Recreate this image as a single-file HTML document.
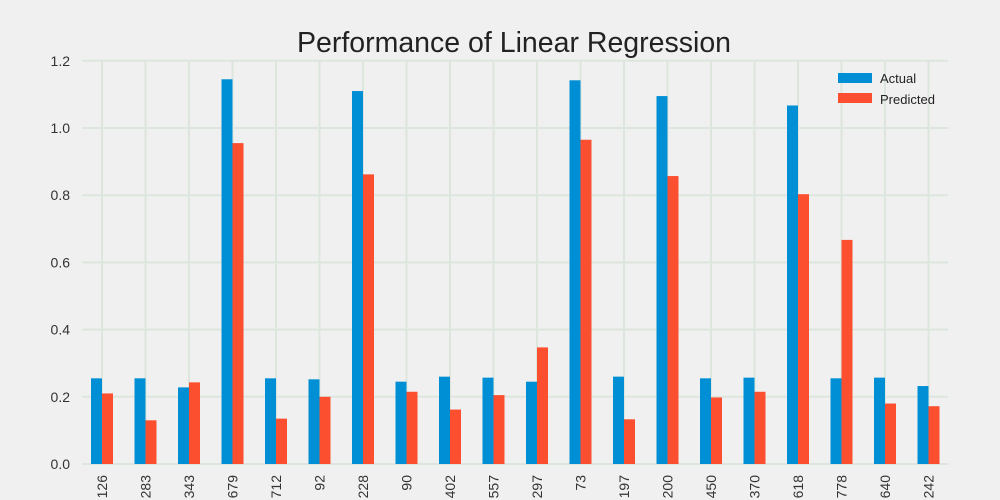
<!DOCTYPE html>
<html><head><meta charset="utf-8"><style>
body{margin:0;background:#f0f0f0;}
svg{display:block;font-family:"Liberation Sans",sans-serif;}
</style></head><body>
<svg id="c" width="1000" height="500">
<rect width="1000" height="500" fill="#f0f0f0"/>
<text x="514" y="52" text-anchor="middle" font-size="28.5" fill="#222">Performance of Linear Regression</text>
<g id="grid"></g><g id="bars"></g><g id="axes"></g>
<g>
<rect x="838" y="73" width="34" height="10" fill="#008fd5"/>
<text x="880" y="83" font-size="13" fill="#222">Actual</text>
<rect x="838" y="93" width="34" height="10" fill="#fc4f30"/>
<text x="880" y="104" font-size="13" fill="#222">Predicted</text>
</g>
</svg>
<script>
const categories=["126","283","343","679","712","92","228","90","402","557","297","73","197","200","450","370","618","778","640","242"];
const actual=[0.255,0.255,0.228,1.145,0.255,0.252,1.11,0.245,0.26,0.257,0.245,1.142,0.26,1.095,0.255,0.257,1.067,0.255,0.257,0.232];
const predicted=[0.21,0.13,0.243,0.955,0.135,0.20,0.862,0.215,0.162,0.205,0.347,0.965,0.133,0.857,0.198,0.215,0.803,0.667,0.18,0.172];
const yTicks=[0,0.2,0.4,0.6,0.8,1.0,1.2];
const NS="http://www.w3.org/2000/svg";
const y=v=>464-v*336;
const x=i=>102+i*43.5;
function mk(t,a,p){const e=document.createElementNS(NS,t);for(const k in a)e.setAttribute(k,a[k]);p.appendChild(e);return e;}
const grid=document.getElementById('grid'),bars=document.getElementById('bars'),axes=document.getElementById('axes');
yTicks.forEach(t=>{
 const l=mk('line',{x1:82,x2:948,y1:y(t),y2:y(t),stroke:'#dde6dd','stroke-width':2},grid);
 
 
 const tx=mk('text',{x:70,y:y(t)+5,'text-anchor':'end','font-size':14,fill:'#333'},axes);
 tx.textContent=t.toFixed(1);
 
 
});
categories.forEach((c,i)=>{
 const l=mk('line',{x1:x(i),x2:x(i),y1:61,y2:464,stroke:'#dde6dd','stroke-width':2},grid);
 
 
 const a=mk('rect',{x:x(i)-11,y:y(actual[i]),width:11,height:464-y(actual[i]),fill:'#008fd5'},bars);
 
 
 const p=mk('rect',{x:x(i),y:y(predicted[i]),width:11,height:464-y(predicted[i]),fill:'#fc4f30'},bars);
 
 
 const tx=mk('text',{transform:`translate(${x(i)+5},475) rotate(-90)`,'text-anchor':'end','font-size':14,fill:'#333'},axes);
 tx.textContent=c;
 
 
});
</script>
</body></html>
